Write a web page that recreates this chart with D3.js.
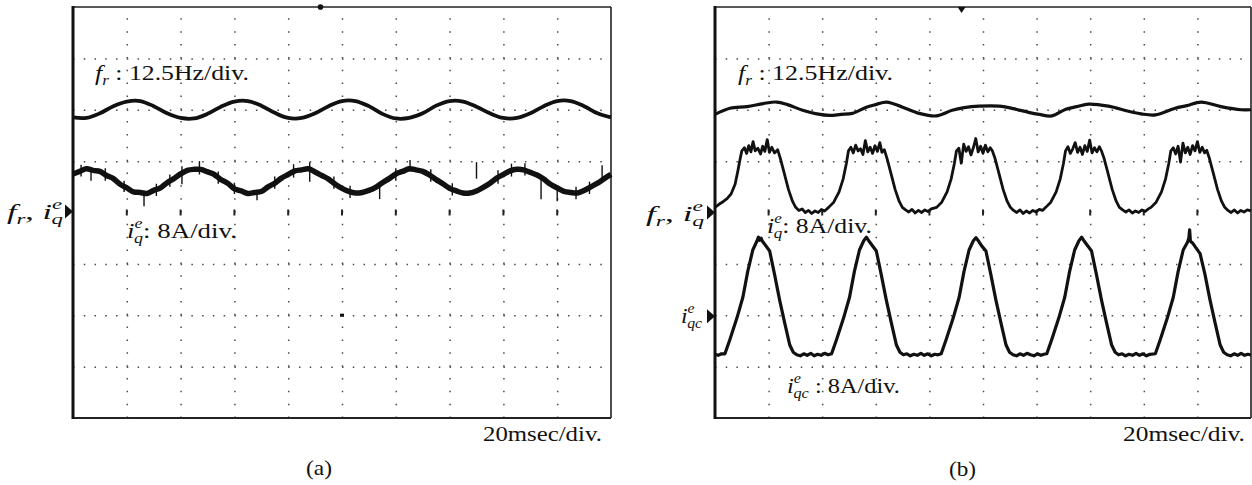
<!DOCTYPE html>
<html><head><meta charset="utf-8">
<script src="https://cdn.jsdelivr.net/npm/d3@7/dist/d3.min.js"></script>
<style>
body{margin:0;background:#fff}
svg{display:block}
text{font-family:"Liberation Serif","Times New Roman",serif;fill:#111}
</style>
</head><body>
<svg id="c" width="1252" height="485"></svg>
<script>
// ---------------- DATA ----------------
// time axis: 20 msec/div, 10 divisions; vertical: 8 divisions
const gridTimes = [20, 40, 60, 80, 100, 120, 140, 160, 180];
const gridLevels = [1, 2, 3, 5, 6, 7];
const centerLevel = 4;

// (a) f_r, sampled every 5 ms (level in divisions from bottom)
const frAStep = 5;
const frA = [5.85,5.84,5.93,6.07,6.16,6.17,6.07,5.93, 5.84,5.83,5.92,6.06,6.16,6.17,6.08,5.94,
             5.84,5.84,5.93,6.07,6.17,6.17,6.07,5.92, 5.83,5.84,5.93,6.08,6.17,6.16,6.06,5.93,
             5.84,5.84,5.93,6.07,6.17,6.17,6.07,5.93, 5.85];

// (a) i_q^e, sampled every 2.5 ms
const iqAStep = 2.5;
const iqA = [4.75,4.80,4.85,4.82,4.80,4.72,4.66,4.55,4.48,4.40,4.39,4.37,4.43,4.48,4.58,4.66,
             4.75,4.82,4.84,4.84,4.79,4.74,4.64,4.57,4.46,4.42,4.37,4.39,4.41,4.50,4.57,4.67,
             4.74,4.81,4.83,4.85,4.79,4.72,4.65,4.55,4.47,4.41,4.38,4.39,4.43,4.49,4.58,4.66,
             4.75,4.80,4.85,4.83,4.80,4.73,4.64,4.56,4.47,4.42,4.38,4.38,4.42,4.49,4.57,4.67,
             4.74,4.81,4.84,4.83,4.78,4.73,4.65,4.55,4.48,4.41,4.39,4.38,4.43,4.50,4.57,4.66,
             4.74];
// (a) i_q^e noise spikes: [time ms, low, high]
const iqASpikes = [[6.7,4.62,4.88],[26.4,4.12,4.42],[40.5,4.55,4.90],[68.4,4.24,4.44],[114,4.26,4.56],
                   [125.3,4.80,5.02],[174,4.26,4.70],[180,4.22,4.50],[196.7,4.62,4.92],[88,4.60,4.98],[150,4.66,4.98],
                   [3,4.70,4.93],[12,4.62,4.86],[19,4.40,4.62],[31,4.32,4.56],[36,4.50,4.74],[47,4.74,5.00],
                   [54,4.56,4.80],[60,4.36,4.58],[75,4.46,4.70],[82,4.68,4.94],[97,4.46,4.70],[103,4.28,4.52],
                   [120,4.62,4.86],[133,4.60,4.84],[141,4.33,4.57],[158,4.56,4.82],[163,4.70,4.95],
                   [168,4.72,4.96],[187,4.26,4.50],[192,4.36,4.60]];

// (b) f_r : [time ms, level]
const frB = [[0,5.91],[5.6,6.03],[12,6.06],[18,6.12],[23,6.15],[27,6.10],[32.7,5.99],[38,5.92],[42.8,5.89],
             [47,5.91],[51.3,5.93],[56.5,6.05],[60,6.10],[64,6.15],[70,6.05],[76.2,5.93],[82.5,5.88],
             [88.5,5.99],[93,6.04],[98.5,6.07],[106,6.07],[112.3,6.01],[117,5.95],[121,5.91],[125.7,5.88],
             [130.9,6.01],[135,6.06],[139.4,6.11],[146.8,6.07],[154.3,5.97],[159,5.92],[164.3,5.90],
             [171.7,6.03],[176,6.08],[181.4,6.15],[188.8,6.06],[196.3,6.00],[200,6.00]];

// (b) i_q^e : [time ms, level]
const iqB = [
 [0,4.10],[1.5,4.16],[3,4.21],[4.5,4.27],[6,4.36],[7.5,4.55],[8.5,4.80],[9.3,5.02],[10,5.20],
 [11,5.26],[11.8,5.15],[12.6,5.30],[13.4,5.18],[14.2,5.38],[15,5.20],[16,5.25],[17,5.14],[17.8,5.29],[18.6,5.19],[19.5,5.42],[20.3,5.17],[21.2,5.27],[22.2,5.16],[23.4,5.22],
 [24.4,5.05],[25.9,4.75],[27.4,4.45],[28.9,4.22],[30.1,4.10],
 [31.3,4.04],[32.5,4.07],[33.7,4.00],[34.9,4.04],[36.1,3.98],[37.3,4.03],[38.5,4.00],[39.7,4.06],[40.9,4.03],[42.4,4.10],
 [44.3,4.20],[46.3,4.40],[47.8,4.65],[49,4.95],[49.8,5.20],
 [50.7,5.27],[51.6,5.16],[52.5,5.31],[53.4,5.20],[54.3,5.24],[55.2,5.13],[56.1,5.40],[57,5.18],[57.9,5.27],[58.8,5.15],[59.7,5.30],[60.6,5.19],[61.5,5.36],[62.3,5.17],[63.2,5.22],
 [64.2,5.05],[65.7,4.75],[67.2,4.45],[68.7,4.22],[69.9,4.10],
 [71.1,4.05],[72.3,4.01],[73.5,4.06],[74.7,3.99],[75.9,4.04],[77.1,4.00],[78.3,4.05],[79.5,4.02],[80.7,4.07],[82.7,4.10],
 [84.6,4.20],[86.6,4.40],[88.1,4.65],[89.3,4.95],[90.1,5.20],
 [91,5.25],[91.9,4.96],[92.8,5.33],[93.7,5.19],[94.6,5.28],[95.5,5.12],[96.4,5.26],[97.3,5.44],[98.2,5.18],[99.1,5.29],[100,5.15],[100.9,5.31],[101.8,5.18],[102.7,5.26],[103.5,5.20],
 [104.5,5.05],[106,4.75],[107.5,4.45],[109,4.22],[110.2,4.10],
 [111.4,4.04],[112.6,4.00],[113.8,4.05],[115,3.98],[116.2,4.03],[117.4,3.99],[118.6,4.04],[119.8,4.01],[121,4.06],[122.2,4.04],[123.4,4.10],
 [125.3,4.20],[127.3,4.40],[128.8,4.65],[130,4.95],[130.8,5.20],
 [131.7,5.28],[132.6,5.15],[133.5,5.24],[134.4,5.36],[135.3,5.17],[136.2,5.27],[137.1,5.13],[138,5.30],[138.9,5.19],[139.8,5.41],[140.7,5.16],[141.6,5.26],[142.5,5.18],[143.4,5.28],[144.2,5.20],
 [145.2,5.05],[146.7,4.75],[148.2,4.45],[149.7,4.22],[150.9,4.10],
 [152.1,4.05],[153.3,4.01],[154.5,4.05],[155.7,3.99],[156.9,4.03],[158.1,4.00],[159.3,4.05],[160.5,4.02],[161.7,4.07],[162.7,4.10],
 [164.6,4.20],[166.6,4.40],[168.1,4.65],[169.3,4.95],[170.1,5.20],
 [171,5.26],[171.9,5.14],[172.8,5.29],[173.7,4.98],[174.6,5.35],[175.5,5.16],[176.4,5.27],[177.3,5.13],[178.2,5.30],[179.1,5.20],[180,5.38],[180.9,5.17],[181.8,5.27],[182.7,5.16],[183.5,5.21],
 [184.5,5.05],[186,4.75],[187.5,4.45],[189,4.22],[190.2,4.10],
 [191.4,4.04],[192.6,4.00],[193.8,4.05],[195,3.99],[196.2,4.04],[197.4,4.01],[198.6,4.05],[200,4.03]
];

// (b) i_qc^e : [time ms, level]
const iqcB = [
 [0,1.24],[1.2,1.22],[2.4,1.25],[3.7,1.25],[5.5,1.52],[8.2,1.95],[10.4,2.35],[12.2,2.85],[14.1,3.27],[15.7,3.45],[16.2,3.52],[16.7,3.46],[17.2,3.50],[17.7,3.44],[20.4,3.25],[22.2,2.80],[24.1,2.30],[26,1.85],[27.9,1.42],[29.2,1.28],[30.5,1.23],
 [31.8,1.21],[33.1,1.25],[34.4,1.22],[35.7,1.26],[37,1.21],[38.3,1.24],[39.6,1.22],[40.9,1.26],[42.2,1.23],[43.5,1.25],
 [45.3,1.52],[48,1.95],[50.2,2.35],[52,2.85],[53.9,3.27],[55.5,3.45],[56.5,3.52],[57.5,3.44],[60.2,3.25],[62,2.80],[63.9,2.30],[65.8,1.85],[67.7,1.42],[69,1.28],[70.3,1.23],
 [71.6,1.25],[72.9,1.21],[74.2,1.24],[75.5,1.22],[76.8,1.26],[78.1,1.22],[79.4,1.25],[80.7,1.21],[82,1.24],[83.2,1.23],[84.4,1.25],
 [86.2,1.52],[88.9,1.95],[91.1,2.35],[92.9,2.85],[94.8,3.27],[96.4,3.45],[97.4,3.51],[98.4,3.44],[99.5,3.35],[101.1,3.25],[102.9,2.80],[104.8,2.30],[106.7,1.85],[108.6,1.42],[109.9,1.28],[111.2,1.23],
 [112.5,1.21],[113.8,1.25],[115.1,1.22],[116.4,1.26],[117.7,1.23],[119,1.21],[120.3,1.25],[121.6,1.22],[122.7,1.24],[123.8,1.25],
 [125.6,1.52],[128.3,1.95],[130.5,2.35],[132.3,2.85],[134.2,3.27],[135.8,3.45],[136.8,3.52],[137.8,3.44],[140.5,3.25],[142.3,2.80],[144.2,2.30],[146.1,1.85],[148,1.42],[149.3,1.28],[150.6,1.23],
 [151.9,1.25],[153.2,1.21],[154.5,1.24],[155.8,1.22],[157.1,1.26],[158.4,1.22],[159.7,1.25],[161,1.21],[162.3,1.24],[164.3,1.25],
 [166.1,1.52],[168.8,1.95],[171,2.35],[172.8,2.85],[174.7,3.27],[176.3,3.42],[176.8,3.50],[177.1,3.66],[177.4,3.44],[178.3,3.40],[181,3.20],[182.8,2.80],[184.7,2.30],[186.6,1.85],[188.5,1.42],[189.8,1.28],[191.1,1.23],
 [192.4,1.21],[193.7,1.25],[195,1.22],[196.3,1.26],[197.6,1.22],[198.8,1.24],[200,1.23]
];

// reference marker levels (divisions)
const markerA = [4.02];
const markerB = [4.0, 1.98];

// ---------------- DRAW ----------------
const svg = d3.select("#c");
svg.append("rect").attr("width",1252).attr("height",485).attr("fill","#fff");

const y = d3.scaleLinear().domain([0, 8]).range([418, 7]);
const xA = d3.scaleLinear().domain([0, 200]).range([73, 611]);
const xB = d3.scaleLinear().domain([0, 200]).range([715, 1251]);

function panel(x) {
  const g = svg.append("g");
  const [x0, x1] = x.range();
  const [yb, yt] = y.range();
  // vertical dotted grid
  g.append("g").attr("transform", `translate(0,${yb})`)
    .call(d3.axisBottom(x).tickValues(gridTimes).tickSize(-(yb - yt)).tickFormat(""))
    .call(s => s.select(".domain").remove())
    .selectAll("line").attr("stroke", "#4a4a4a").attr("stroke-width", 1.5)
    .attr("stroke-dasharray", `1.5 ${(yb - yt) / 32 - 1.5}`);
  // horizontal dotted grid
  g.append("g").attr("transform", `translate(${x0},0)`)
    .call(d3.axisLeft(y).tickValues(gridLevels).tickSize(-(x1 - x0)).tickFormat(""))
    .call(s => s.select(".domain").remove())
    .selectAll("line").attr("stroke", "#4a4a4a").attr("stroke-width", 1.5)
    .attr("stroke-dasharray", `1.5 ${(x1 - x0) / 50 - 1.5}`);
  // centre-row marks
  g.selectAll("rect.cm").data(gridTimes).join("rect").attr("class", "cm")
    .attr("x", d => x(d) - 1).attr("y", y(centerLevel) - 3).attr("width", 2).attr("height", 6).attr("fill", "#222");
  // frame
  g.append("line").attr("x1", x0).attr("x2", x1).attr("y1", yt).attr("y2", yt).attr("stroke", "#222").attr("stroke-width", 1.6);
  g.append("line").attr("x1", x1).attr("x2", x1).attr("y1", yt).attr("y2", yb).attr("stroke", "#222").attr("stroke-width", 1.6);
  g.append("line").attr("x1", x0).attr("x2", x1).attr("y1", yb).attr("y2", yb).attr("stroke", "#222").attr("stroke-width", 2);
  g.append("line").attr("x1", x0).attr("x2", x0).attr("y1", yt - 1).attr("y2", yb + 1).attr("stroke", "#111").attr("stroke-width", 3);
  return g;
}
const gA = panel(xA);
const gB = panel(xB);

// top trigger markers
svg.append("circle").attr("cx", xA(92)).attr("cy", y(8)).attr("r", 2.8).attr("fill", "#111");
svg.append("path").attr("d", `M${xB(92)-4},${y(8)} L${xB(92)+4},${y(8)} L${xB(92)},${y(8)+6} Z`).attr("fill", "#111");
svg.append("rect").attr("x", xA(100) - 2).attr("y", y(2) - 1.5).attr("width", 4).attr("height", 3).attr("fill", "#111");

const line = (x, curve) => d3.line().x(d => x(d[0])).y(d => y(d[1])).curve(curve || d3.curveLinear);

// (a) traces
gA.append("path").datum(frA.map((v, i) => [i * frAStep, v]))
  .attr("d", line(xA, d3.curveCatmullRom)).attr("fill", "none").attr("stroke", "#111").attr("stroke-width", 3.8);
gA.append("path").datum(iqA.map((v, i) => [i * iqAStep, v]))
  .attr("d", line(xA, d3.curveCatmullRom)).attr("fill", "none").attr("stroke", "#111").attr("stroke-width", 5.5);
gA.selectAll("line.spk").data(iqASpikes).join("line").attr("class", "spk")
  .attr("x1", d => xA(d[0])).attr("x2", d => xA(d[0]))
  .attr("y1", d => y(d[1])).attr("y2", d => y(d[2])).attr("stroke", "#111").attr("stroke-width", 1.4);

// (b) traces
gB.append("path").datum(frB).attr("d", line(xB, d3.curveCatmullRom))
  .attr("fill", "none").attr("stroke", "#111").attr("stroke-width", 3.2);
gB.append("path").datum(iqB).attr("d", line(xB))
  .attr("fill", "none").attr("stroke", "#111").attr("stroke-width", 2.8).attr("stroke-linejoin", "round");
gB.append("path").datum(iqcB).attr("d", line(xB))
  .attr("fill", "none").attr("stroke", "#111").attr("stroke-width", 3.2).attr("stroke-linejoin", "round");

// level markers (triangles)
function tri(x0, lv) {
  const yy = y(lv);
  svg.append("path").attr("d", `M${x0-8},${yy-7} L${x0},${yy} L${x0-8},${yy+7} Z`).attr("fill", "#111");
}
markerA.forEach(v => tri(73, v));
markerB.forEach(v => tri(715, v));

// ---------------- TEXT ----------------
const FS = 21, FSS = 14;
function label(parts, x, yb, w) {
  const t = svg.append("text").attr("x", x).attr("y", yb).attr("font-size", FS);
  let shift = 0;
  parts.forEach(([txt, st]) => {
    const s = t.append("tspan").text(txt);
    let target = 0, dx = 0;
    if (st === "i") s.attr("font-style", "italic");
    if (st === "sub") { target = 5; s.attr("font-style", "italic").attr("font-size", FSS); }
    if (st === "sup") { target = -10; s.attr("font-style", "italic").attr("font-size", FSS); }
    if (st === "subq") { target = 5; dx = -6.5; s.attr("font-style", "italic").attr("font-size", FSS); }
    s.attr("dy", target - shift);
    if (dx) s.attr("dx", dx);
    shift = target;
  });
  const bb = t.node().getBBox();
  const sx = w / bb.width;
  t.attr("transform", `translate(${x},0) scale(${sx},1) translate(${-bb.x},0)`);
}
const FR = [["f", "i"], ["r", "sub"]];
const IQ = [["i", "i"], ["e", "sup"], ["q", "subq"]];
const IQC = [["i", "i"], ["e", "sup"], ["qc", "subq"]];

label([...FR, [" : 12.5Hz/div.", "n"]], 95, 80, 154);
label([...IQ, [": 8A/div.", "n"]], 127, 238, 110);
label([["20msec/div.", "n"]], 483, 441, 119);
label([["(a)", "n"]], 306, 475, 26);
label([...FR, [", ", "n"], ...IQ], 7, 219, 56);

label([...FR, [" : 12.5Hz/div.", "n"]], 738, 80, 155);
label([...IQ, [": 8A/div.", "n"]], 767, 233, 105);
label([...IQC, [" : 8A/div.", "n"]], 787, 393, 113);
label([["20msec/div.", "n"]], 1123, 441, 122);
label([["(b)", "n"]], 949, 476, 27);
label([...FR, [", ", "n"], ...IQ], 646, 221, 58);
label(IQC, 681, 323, 22);
</script>
</body></html>
